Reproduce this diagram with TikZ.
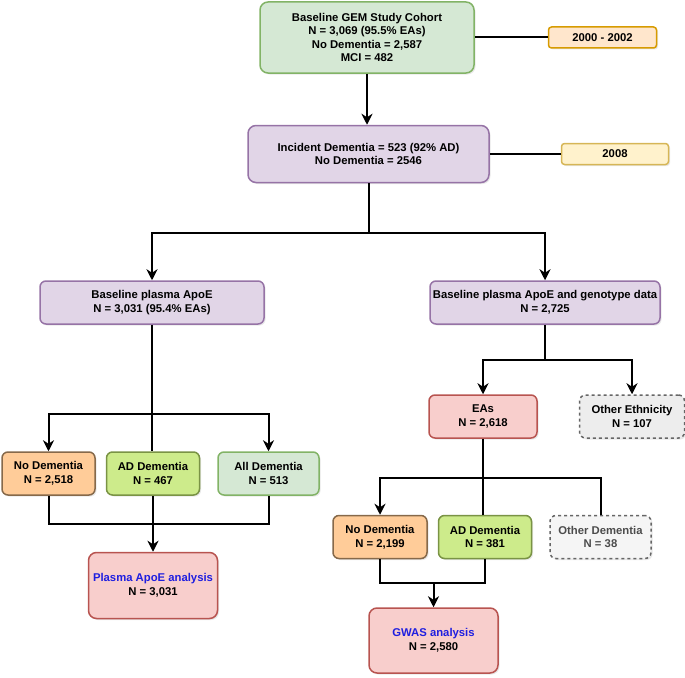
\documentclass[tikz,border=0pt]{standalone}
\usepackage{fontspec}
\setmainfont{Liberation Sans}
\usepackage{xcolor}
\usepackage{tikz}
\usetikzlibrary{positioning,shadows,arrows.meta}

\definecolor{gemgreen}{HTML}{D5E8D4}
\definecolor{gemgreenline}{HTML}{82B366}
\definecolor{yearorange}{HTML}{FFE6CC}
\definecolor{yearorangeline}{HTML}{D79B00}
\definecolor{yearyellow}{HTML}{FFF2CC}
\definecolor{yearyellowline}{HTML}{D6B656}
\definecolor{gempurple}{HTML}{E1D5E7}
\definecolor{gempurpleline}{HTML}{9673A6}
\definecolor{nodemfill}{HTML}{FFCC99}
\definecolor{nodemline}{HTML}{86694A}
\definecolor{adfill}{HTML}{CDEB8B}
\definecolor{adline}{HTML}{7A9345}
\definecolor{gemred}{HTML}{F8CECC}
\definecolor{gemredline}{HTML}{B85450}
\definecolor{othergrey}{HTML}{666666}
\definecolor{analysisblue}{HTML}{1F1FE0}

\begin{document}
\begin{tikzpicture}[
    x=1pt, y=-1pt,
    font=\fontsize{11.3}{13.6}\selectfont\bfseries,
    box/.style={
        rectangle,
        draw=#1,
        line width=1.5pt,
        minimum width=93pt,
        minimum height=43pt,
        align=center,
        rounded corners=6pt,
        inner sep=2pt,
        drop shadow={opacity=0.18, shadow xshift=1.5pt, shadow yshift=-1.5pt}
    },
    cohort/.style={box=gemgreenline, fill=gemgreen},
    period/.style={box=#1, minimum width=108pt, minimum height=21pt, rounded corners=3pt},
    stage/.style={box=gempurpleline, fill=gempurple},
    nodem/.style={box=nodemline, fill=nodemfill},
    addem/.style={box=adline, fill=adfill},
    alldem/.style={box=gemgreenline, fill=gemgreen},
    result/.style={box=gemredline, fill=gemred},
    excluded/.style={box=othergrey, fill=#1, dashed},
    joinline/.style={draw=black, line width=2pt},
    arrow/.style={-{Stealth[length=11pt, width=11pt, inset=3.5pt]}, line width=2pt}
]
\useasboundingbox (0,0) rectangle (685,677);

% Baseline cohort and follow-up
\node[cohort, minimum width=214pt, minimum height=71pt, rounded corners=8pt] (cohort) at (367,37.5)
    {Baseline GEM Study Cohort\\N = 3,069 (95.5\% EAs)\\No Dementia = 2,587\\MCI = 482};
\node[period=yearorangeline, fill=yearorange, right=73pt of cohort] (yearA) {2000 - 2002};
\node[stage, minimum width=241pt, minimum height=57pt, rounded corners=8pt, below=51pt of cohort, xshift=1.5pt] (incident)
    {Incident Dementia = 523 (92\% AD)\\No Dementia = 2546};
\node[period=yearyellowline, fill=yearyellow, right=71pt of incident, minimum width=107pt] (yearB) {2008};

% Two study arms
\node[stage, minimum width=224pt] (apoe) at (152,302.5) {Baseline plasma ApoE\\N = 3,031 (95.4\% EAs)};
\node[stage, minimum width=230pt] (geno) at (545,302.5) {Baseline plasma ApoE and genotype data\\N = 2,725};

% Plasma ApoE arm
\node[nodem] (noDemA) at (48.5,473.5) {No Dementia\\N = 2,518};
\node[addem, right=10pt of noDemA] (adA) {AD Dementia\\N = 467};
\node[alldem, right=17pt of adA, minimum width=101pt] (allDemA) {All Dementia\\N = 513};
\node[result, minimum width=129pt, minimum height=66pt, rounded corners=8pt, below=56pt of adA] (plasma)
    {\textcolor{analysisblue}{Plasma ApoE analysis}\\N = 3,031};

% Genotype arm
\node[result, minimum width=108pt] (eas) at (483,416.5) {EAs\\N = 2,618};
\node[excluded=black!7, right=41pt of eas, minimum width=105pt] (otherEth) {Other Ethnicity\\N = 107};
\node[nodem, minimum width=94pt] (noDemB) at (380,537) {No Dementia\\N = 2,199};
\node[addem, right=10pt of noDemB] (adB) {AD Dementia\\N = 381};
\node[excluded=black!4, right=17pt of adB, minimum width=101pt, text=black!70] (otherDem) {Other Dementia\\N = 38};
\node[result, minimum width=129pt, minimum height=65pt, rounded corners=8pt] (gwas) at (433.5,640.5)
    {\textcolor{analysisblue}{GWAS analysis}\\N = 2,580};

% Year markers
\draw[joinline] (cohort.east) -- (yearA.west);
\draw[joinline] (incident.east) -- (yearB.west);

% Main flow
\draw[arrow] (cohort.south) -- (cohort.south |- incident.north);
\draw[joinline] (incident.south) -- ++(0,50) coordinate (splitTop);
\draw[arrow] (splitTop) -| (apoe.north);
\draw[arrow] (splitTop) -| (geno.north);

% Plasma ApoE branches
\draw[joinline] (apoe.south) -- (apoe.south |- adA.north);
\draw[joinline] (apoe.south) -- ++(0,89) coordinate (splitA);
\draw[arrow] (splitA) -| (noDemA.north);
\draw[arrow] (splitA) -| (allDemA.north);
\draw[joinline] (noDemA.south) -- ++(0,28) -| (allDemA.south);
\draw[arrow] (adA.south) -- (plasma.north);

% Genotype branches
\draw[joinline] (geno.south) -- ++(0,35) coordinate (splitB);
\draw[arrow] (splitB) -| (eas.north);
\draw[arrow] (splitB) -| (otherEth.north);
\draw[joinline] (eas.south) -- (eas.south |- adB.north);
\draw[joinline] (eas.south) -- ++(0,39) coordinate (splitC);
\draw[arrow] (splitC) -| (noDemB.north);
\draw[joinline] (splitC) -| (otherDem.north);
\draw[joinline] (noDemB.south) -- ++(0,24) coordinate (mergeB) -| (adB.south);
\draw[arrow] (mergeB -| gwas.north) -- (gwas.north);

\end{tikzpicture}
\end{document}
